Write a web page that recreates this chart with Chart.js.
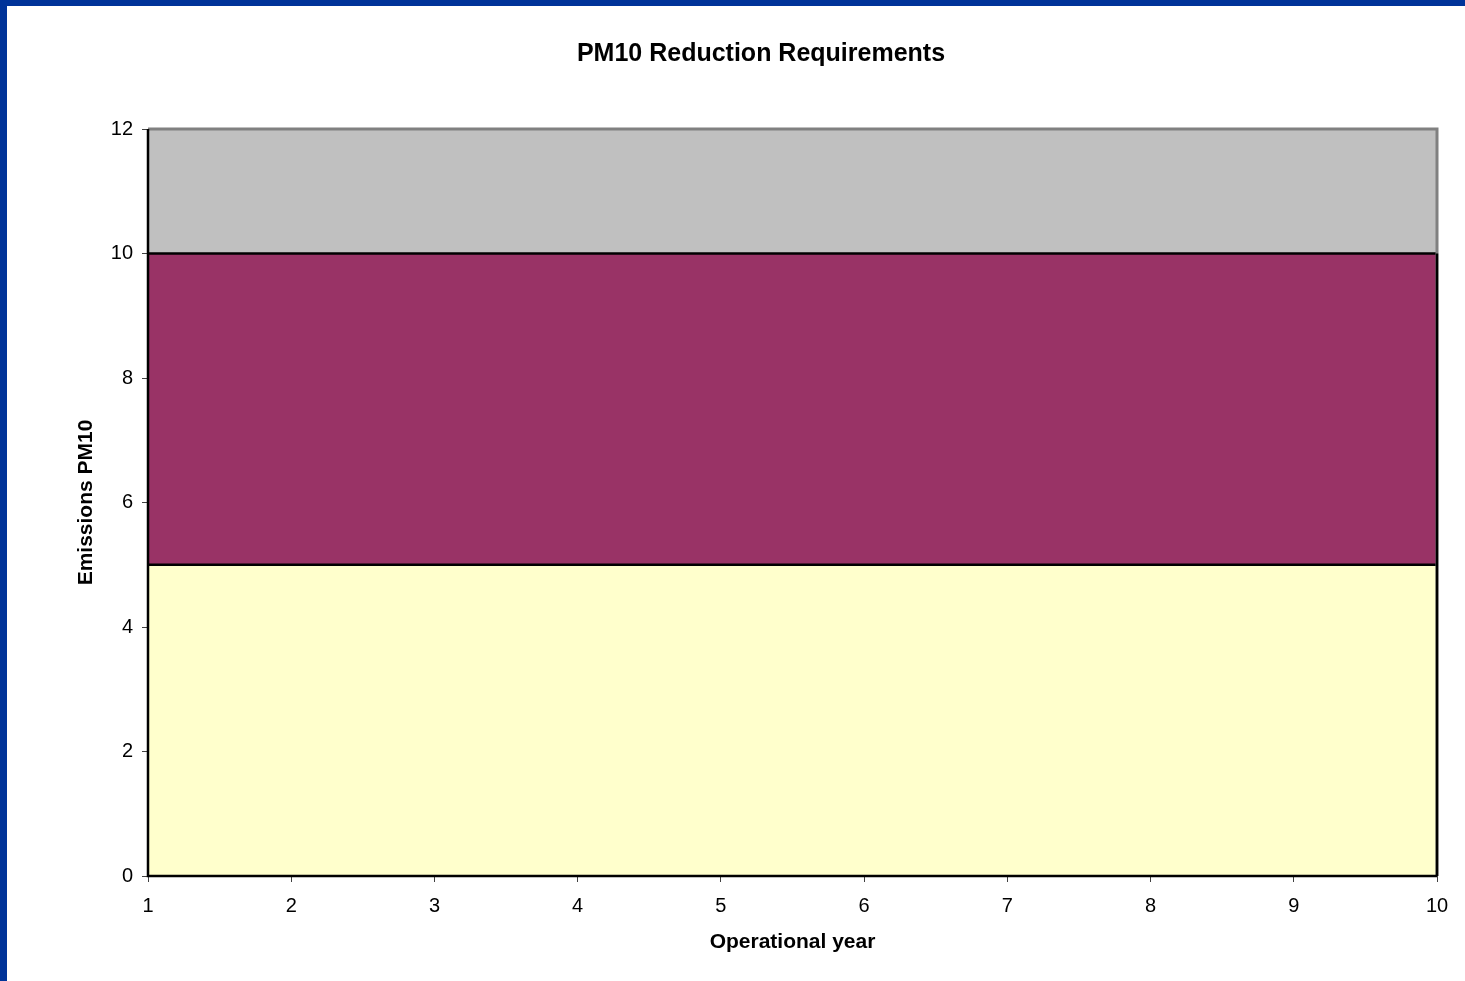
<!DOCTYPE html>
<html>
<head>
<meta charset="utf-8">
<script src="https://cdn.jsdelivr.net/npm/chart.js@4"></script>
<style>
  html, body { margin: 0; padding: 0; background: #fff; }
  #page { position: relative; width: 1465px; height: 981px; background: #fff; overflow: hidden; }
  #topbar { position: absolute; left: 0; top: 0; width: 1465px; height: 6px; background: #003399; z-index: 2; }
  #leftbar { position: absolute; left: 0; top: 0; width: 7px; height: 981px; background: #003399; z-index: 2; }
  #c { position: absolute; left: 57px; top: 6px; }
</style>
</head>
<body>
<div id="page">
  <div id="topbar"></div>
  <div id="leftbar"></div>
  <canvas id="c" width="1420" height="975"></canvas>
</div>
<script>
const years = [1, 2, 3, 4, 5, 6, 7, 8, 9, 10];
const allowedEmissions = [5, 5, 5, 5, 5, 5, 5, 5, 5, 5];
const reductionRequired = [5, 5, 5, 5, 5, 5, 5, 5, 5, 5];
const yTicks = [0, 2, 4, 6, 8, 10, 12];

const FONT = "'Liberation Sans', Arial, sans-serif";

const plotFrame = {
  id: 'plotFrame',
  beforeDatasetsDraw(chart) {
    const { ctx, chartArea: a } = chart;
    ctx.save();
    ctx.fillStyle = '#C0C0C0';
    ctx.fillRect(a.left, a.top, a.right - a.left, a.bottom - a.top);
    ctx.restore();
  },
  afterDatasetsDraw(chart) {
    const { ctx, chartArea: a, scales } = chart;
    ctx.save();
    ctx.strokeStyle = '#808080';
    ctx.lineWidth = 3;
    ctx.beginPath();
    ctx.moveTo(a.left, a.top);
    ctx.lineTo(a.right, a.top);
    ctx.lineTo(a.right, a.bottom);
    ctx.stroke();
    const total = allowedEmissions[allowedEmissions.length - 1] + reductionRequired[reductionRequired.length - 1];
    const xr = scales.x.getPixelForValue(years[years.length - 1]);
    const x0 = scales.x.getPixelForValue(years[0]);
    const y0 = scales.y.getPixelForValue(0);
    ctx.strokeStyle = '#000';
    ctx.lineWidth = 2.5;
    ctx.beginPath();
    ctx.moveTo(xr, y0);
    ctx.lineTo(xr, scales.y.getPixelForValue(total));
    ctx.stroke();
    ctx.beginPath();
    ctx.moveTo(x0, a.top);
    ctx.lineTo(x0, y0);
    ctx.lineTo(a.right, y0);
    ctx.stroke();
    ctx.restore();
  }
};

new Chart(document.getElementById('c'), {
  type: 'line',
  data: {
    datasets: [
      {
        label: 'Allowed emissions',
        data: years.map((yr, i) => ({ x: yr, y: allowedEmissions[i] })),
        backgroundColor: '#FFFFCC',
        borderColor: '#000000',
        borderWidth: 2.5,
        pointRadius: 0,
        fill: 'origin',
        tension: 0
      },
      {
        label: 'Reduction required',
        data: years.map((yr, i) => ({ x: yr, y: reductionRequired[i] })),
        backgroundColor: '#993366',
        borderColor: '#000000',
        borderWidth: 2.5,
        pointRadius: 0,
        fill: '-1',
        tension: 0
      }
    ]
  },
  options: {
    responsive: false,
    animation: false,
    events: [],
    layout: { padding: { left: 28, right: 40, top: 0, bottom: 26 } },
    plugins: {
      legend: { display: false },
      tooltip: { enabled: false },
      title: {
        display: true,
        text: 'PM10 Reduction Requirements',
        color: '#000',
        font: { family: FONT, size: 25, weight: 'bold' },
        padding: { top: 33, bottom: 60 }
      }
    },
    scales: {
      x: {
        type: 'linear',
        min: years[0],
        max: years[years.length - 1],
        afterFit(s) { s.height = 79; },
        ticks: {
          stepSize: 1,
          color: '#000',
          font: { family: FONT, size: 20 },
          padding: 12,
          maxRotation: 0
        },
        grid: { drawOnChartArea: false, drawTicks: true, tickLength: 6, color: '#404040' },
        border: { display: false },
        title: {
          display: true,
          text: 'Operational year',
          color: '#000',
          font: { family: FONT, size: 21, weight: 'bold' },
          padding: 0
        }
      },
      y: {
        stacked: true,
        min: yTicks[0],
        max: yTicks[yTicks.length - 1],
        afterFit(s) { s.width = 63; },
        afterBuildTicks(s) { s.ticks = yTicks.map(v => ({ value: v })); },
        ticks: {
          color: '#000',
          font: { family: FONT, size: 20 },
          padding: 9
        },
        grid: { drawOnChartArea: false, drawTicks: true, tickLength: 6, color: '#404040' },
        border: { display: false },
        title: {
          display: true,
          text: 'Emissions PM10',
          color: '#000',
          font: { family: FONT, size: 21, weight: 'bold' },
          padding: { top: -11, bottom: 0 }
        }
      }
    }
  },
  plugins: [plotFrame]
});
</script>
</body>
</html>
